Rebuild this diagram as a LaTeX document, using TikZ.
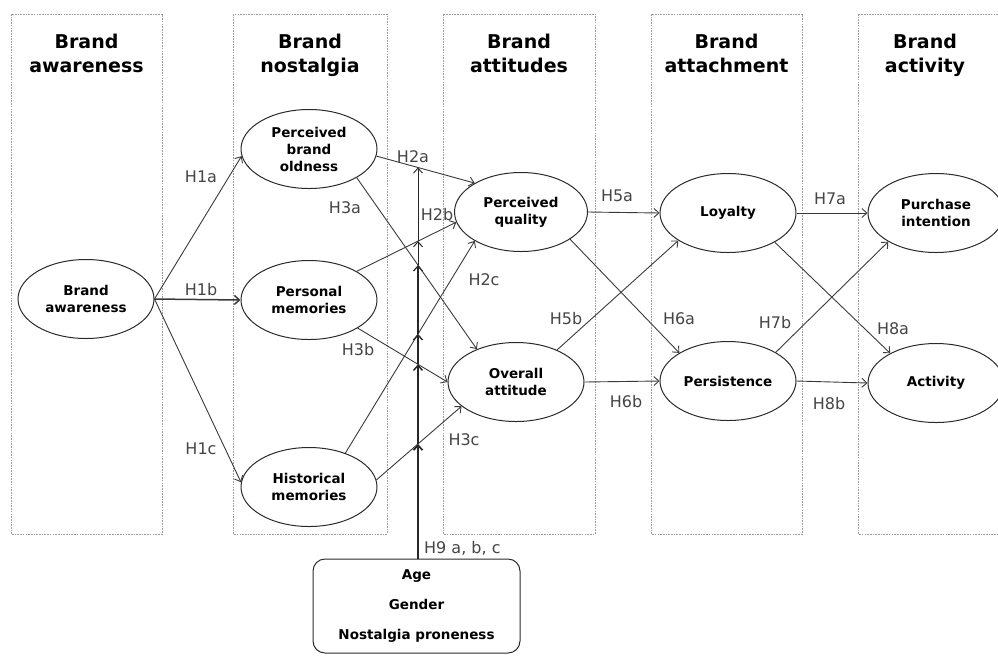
\documentclass[tikz,border=0pt]{standalone}
\usepackage{fontspec}
\setmainfont{DejaVu Sans}
\usetikzlibrary{arrows.meta,shapes.geometric,intersections}
\definecolor{edgec}{HTML}{3A3A3A}
\definecolor{boxc}{HTML}{9C9C9C}
\definecolor{lblc}{HTML}{454545}
\definecolor{ellc}{HTML}{2A2A2A}
\tikzset{
  colbox/.style={draw=boxc, line width=0.6pt, dash pattern=on 1.6pt off 1.1pt},
  coltitle/.style={font=\fontsize{19}{24}\selectfont\bfseries, align=center, anchor=north, inner sep=0pt},
  construct/.style={ellipse, draw=ellc, line width=1pt, minimum width=136pt, minimum height=79pt,
    inner sep=0pt, align=center, font=\fontsize{13.5}{17}\selectfont\bfseries},
  tip/.style={-{Straight Barb[length=5pt,width=9pt]}},
  edge/.style={draw=edgec, line width=0.9pt, tip},
  modline/.style={draw=black!85, tip},
  lbl/.style={font=\fontsize{16}{18}\selectfont, text=lblc, inner sep=0pt, anchor=base},
  modbox/.style={draw=ellc, line width=1pt, rounded corners=12pt, minimum width=207pt, minimum height=94pt,
    inner sep=0pt, align=center, font=\fontsize{13.5}{30}\selectfont\bfseries}
}
\begin{document}
\begin{tikzpicture}[x=1pt,y=-1pt]
\useasboundingbox (0,0) rectangle (998,657);
\clip (0,0) rectangle (998,657);

% column boxes
\draw[colbox] (11,14) rectangle (162,534);
\draw[colbox] (233,14) rectangle (387,534);
\draw[colbox] (443,14) rectangle (595,534);
\draw[colbox] (651,14) rectangle (802,534);
\draw[colbox] (858,14) rectangle (1010,534);

% column titles
\node[coltitle] (t1) at (86.5,33.5) {Brand\\awareness};
\node[coltitle] (t2) at (310,33.5) {Brand\\nostalgia};
\node[coltitle] (t3) at (519,33.5) {Brand\\attitudes};
\node[coltitle] (t4) at (726.5,33.5) {Brand\\attachment};
\node[coltitle] (t5) at (925,33.5) {Brand\\activity};

% constructs
\node[construct] (ba)  at (86,299)  {Brand\\awareness};
\node[construct] (pbo) at (309,149) {Perceived\\brand\\oldness};
\node[construct] (pm)  at (309,300) {Personal\\memories};
\node[construct] (hm)  at (309,487) {Historical\\memories};
\node[construct, minimum width=133pt] (pq) at (521,212) {Perceived\\quality};
\node[construct] (oa)  at (516,382) {Overall\\attitude};
\node[construct] (loy) at (728,213) {Loyalty};
\node[construct] (per) at (728,381) {Persistence};
\node[construct] (pi)  at (936,213) {Purchase\\intention};
\node[construct] (act) at (936,383) {Activity};

% moderator box
\node[modbox] (mod) at (416.5,606) {Age\\Gender\\Nostalgia proneness};

% paths
\draw[edge] (ba.east) -- (pbo.186);
\draw[edge, line width=1.5pt] (ba.east) -- (pm.west);
\draw[edge] (ba.east) -- (hm.176);

\draw[edge, name path=h2a] (pbo.354) -- (pq.148);
\draw[edge, name path=h2b] (pm.31) -- (pq.189);
\draw[edge, name path=h2c] (hm.43) -- (pq.212);
\draw[edge, name path=h3a] (pbo.329) -- (oa.140);
\draw[edge, name path=h3b] (pm.330) -- (oa.west);
\draw[edge, name path=h3c] (hm.6) -- (oa.204);

\draw[edge] (pq.east) -- (loy.west);
\draw[edge] (pq.331) -- (per.150);
\draw[edge] (oa.38) -- (loy.209);
\draw[edge] (oa.east) -- (per.west);

\draw[edge] (loy.east) -- (pi.west);
\draw[edge] (loy.328) -- (act.147);
\draw[edge] (per.31) -- (pi.211);
\draw[edge] (per.east) -- (act.west);

% moderation line
\coordinate (m0) at ([xshift=1.5pt]mod.north);
\coordinate (mtop) at (418,100);
\path[name path=vline] (m0) -- (mtop);
\path[name intersections={of=vline and h2a, by=x2a}];
\path[name intersections={of=vline and h2b, by=x2b}];
\path[name intersections={of=vline and h2c, by=x2c}];
\path[name intersections={of=vline and h3a, by=x3a}];
\path[name intersections={of=vline and h3b, by=x3b}];
\path[name intersections={of=vline and h3c, by=x3c}];
\draw[modline, line width=1.7pt] (m0) -- (x3c);
\draw[modline, line width=1.5pt] (x3c) -- (x3b);
\draw[modline, line width=1.4pt] (x3b) -- (x2c);
\draw[modline, line width=1.2pt] (x2c) -- (x3a);
\draw[modline, line width=1.0pt] (x3a) -- (x2b);
\draw[modline, line width=0.9pt] (x2b) -- (x2a);

% labels
\node[lbl] (l1a) at (201,182) {H1a};
\node[lbl] (l1b) at (201,295) {H1b};
\node[lbl] (l1c) at (201,454) {H1c};
\node[lbl] (l2a) at (413,162) {H2a};
\node[lbl] (l2b) at (437,220) {H2b};
\node[lbl] (l2c) at (484,285) {H2c};
\node[lbl] (l3a) at (345,213) {H3a};
\node[lbl] (l3b) at (358,355) {H3b};
\node[lbl] (l3c) at (464,445) {H3c};
\node[lbl] (l5a) at (617,201) {H5a};
\node[lbl] (l5b) at (566,324) {H5b};
\node[lbl] (l6a) at (679,324) {H6a};
\node[lbl] (l6b) at (626,407) {H6b};
\node[lbl] (l7a) at (830,204) {H7a};
\node[lbl] (l7b) at (775,328) {H7b};
\node[lbl] (l8a) at (893,334) {H8a};
\node[lbl] (l8b) at (829,409) {H8b};
\node[lbl, anchor=base west] (l9) at (424,553) {H9 a, b, c};
\end{tikzpicture}
\end{document}
